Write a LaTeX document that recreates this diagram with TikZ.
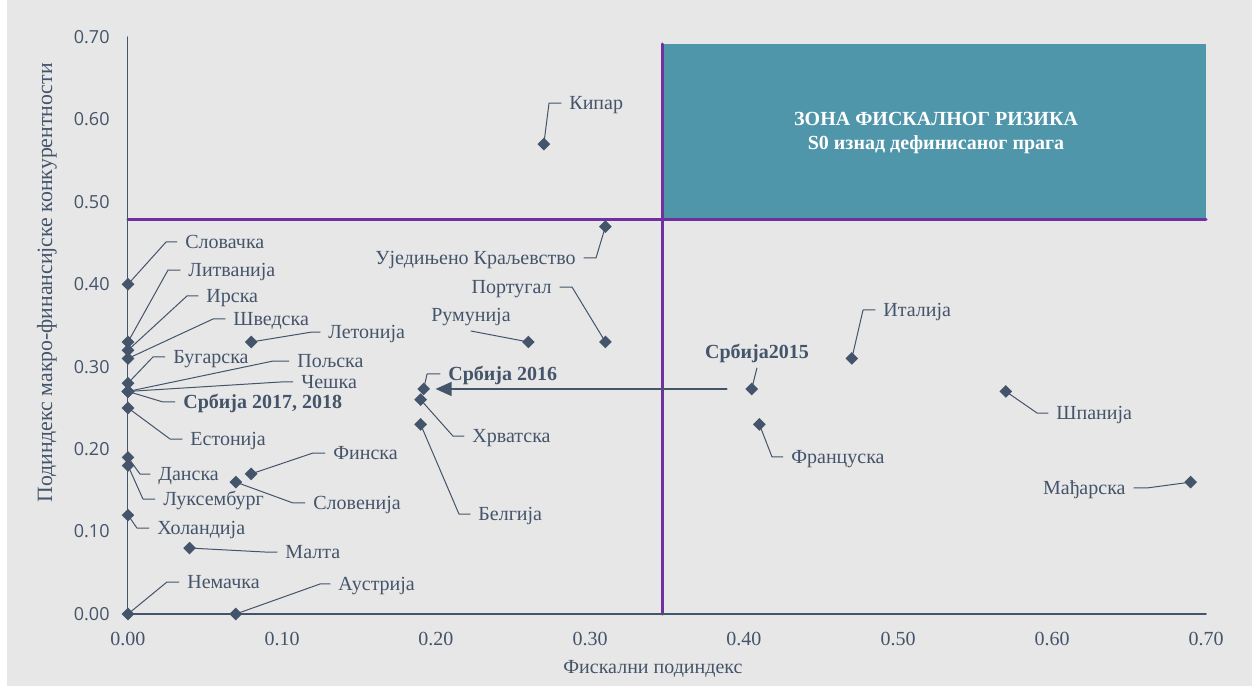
\documentclass[tikz,border=0pt]{standalone}
\usepackage{fontspec}
\setmainfont{Liberation Serif}
\newfontfamily\ticksans{Open Sans}
\usetikzlibrary{arrows.meta,shapes.geometric}
\definecolor{slate}{HTML}{44546A}
\definecolor{zonepurple}{HTML}{7030A0}
\definecolor{zoneteal}{HTML}{5096AB}
\definecolor{chartbg}{HTML}{E7E7E7}
\tikzset{
  country/.style={diamond,fill=slate,inner sep=0pt,minimum size=6.5pt},
  lbl/.style={font=\fontsize{10}{12}\selectfont,text=slate,inner sep=4pt,text height=0.7em,text depth=0.05em},
  leader/.style={draw=slate,line width=0.5pt},
  ytick/.style={font=\ticksans\fontsize{9}{11}\selectfont,text=slate,inner sep=0pt,anchor=east},
  xtick/.style={font=\fontsize{10}{12}\selectfont,text=slate,inner sep=0pt},
  threshold/.style={draw=zonepurple,line width=1.5pt}
}
\begin{document}
\begin{tikzpicture}[line cap=round,line join=round,x=770pt,y=412.15pt]
                \useasboundingbox (-0.08312,-0.08856) rectangle (0.72987,0.74488);
                \fill[white] (-0.08312,-0.08856) rectangle (0.72987,0.74488);
                \fill[chartbg] (-0.07857,-0.08735) rectangle (0.72987,0.74488);
                % risk zone
                \fill[zoneteal] (0.347,0.479) rectangle (0.7,0.6915);
                \node[font=\bfseries\fontsize{10}{12}\selectfont,text=white,align=center] (zone) at (0.5247,0.5835) {ЗОНА ФИСКАЛНОГ РИЗИКА\\S0 изнад дефинисаног прага};
                \draw[threshold] (0,0.479) -- (0.7,0.479);
                \draw[threshold] (0.347,0) -- (0.347,0.6915);
                % axes
                \draw[slate,line width=0.5pt] (0,0.7) -- (0,0);
                \draw[slate,line width=0.8pt] (0,0) -- (0.7,0);
                \foreach \v [count=\i] in {0.00,0.10,0.20,0.30,0.40,0.50,0.60,0.70} {
                    \node[ytick] (yt\i) at (-0.0117,\v) {\v};
                    \node[xtick] (xt\i) at (\v,-0.0303) {\v};
                }
                \node[font=\fontsize{10}{12}\selectfont,text=slate] (xtitle) at (0.3409,-0.0667) {Фискални подиндекс};
                \node[font=\fontsize{10.9}{13}\selectfont,text=slate,rotate=90] (ytitle) at (-0.0526,0.4016) {Подиндекс макро-финансијске конкурентности};
                % countries on the y axis
                \node[country] (svk) at (0,0.40) {};
                \node[country] (ltu) at (0,0.33) {};
                \node[country] (irl) at (0,0.32) {};
                \node[country] (swe) at (0,0.31) {};
                \node[country] (bgr) at (0,0.28) {};
                \node[country] (pol) at (0,0.27) {};
                \node[country] (cze) at (0,0.27) {};
                \node[country] (srb17) at (0,0.27) {};
                \node[country] (est) at (0,0.25) {};
                \node[country] (dnk) at (0,0.19) {};
                \node[country] (lux) at (0,0.18) {};
                \node[country] (nld) at (0,0.12) {};
                \node[country] (deu) at (0,0) {};
                % other countries
                \node[country] (lva) at (0.08,0.33) {};
                \node[country] (fin) at (0.08,0.17) {};
                \node[country] (svn) at (0.07,0.16) {};
                \node[country] (mlt) at (0.04,0.08) {};
                \node[country] (aut) at (0.07,0) {};
                \node[country] (cyp) at (0.27,0.57) {};
                \node[country] (gbr) at (0.31,0.47) {};
                \node[country] (prt) at (0.31,0.33) {};
                \node[country] (rou) at (0.26,0.33) {};
                \node[country] (srb16) at (0.192,0.273) {};
                \node[country] (hrv) at (0.19,0.26) {};
                \node[country] (bel) at (0.19,0.23) {};
                \node[country] (srb15) at (0.405,0.273) {};
                \node[country] (ita) at (0.47,0.31) {};
                \node[country] (fra) at (0.41,0.23) {};
                \node[country] (esp) at (0.57,0.27) {};
                \node[country] (hun) at (0.69,0.16) {};
                % labels and leaders
                \coordinate (svkE) at (0.0247,0.4513);
                \node[lbl,anchor=west] (svkL) at (0.0318,0.4513) {Словачка};
                \draw[leader] (svk.center) -- (svkE) -- (svkL.west);
                \coordinate (ltuE) at (0.0260,0.4173);
                \node[lbl,anchor=west] (ltuL) at (0.0338,0.4173) {Литванија};
                \draw[leader] (ltu.center) -- (ltuE) -- (ltuL.west);
                \coordinate (irlE) at (0.0383,0.3858);
                \node[lbl,anchor=west] (irlL) at (0.0455,0.3858) {Ирска};
                \draw[leader] (irl.center) -- (irlE) -- (irlL.west);
                \coordinate (sweE) at (0.0552,0.3579);
                \node[lbl,anchor=west] (sweL) at (0.0630,0.3579) {Шведска};
                \draw[leader] (swe.center) -- (sweE) -- (sweL.west);
                \coordinate (bgrE) at (0.0162,0.3118);
                \node[lbl,anchor=west] (bgrL) at (0.0240,0.3118) {Бугарска};
                \draw[leader] (bgr.center) -- (bgrE) -- (bgrL.west);
                \coordinate (polE) at (0.0942,0.3069);
                \node[lbl,anchor=west] (polL) at (0.1045,0.3069) {Пољска};
                \draw[leader] (pol.center) -- (polE) -- (polL.west);
                \coordinate (czeE) at (0.0994,0.2815);
                \node[lbl,anchor=west] (czeL) at (0.1071,0.2815) {Чешка};
                \draw[leader] (cze.center) -- (czeE) -- (czeL.west);
                \coordinate (srb17E) at (0.0227,0.2572);
                \node[lbl,anchor=west,font=\bfseries\fontsize{10}{12}\selectfont] (srb17L) at (0.0305,0.2572) {Србија 2017, 2018};
                \draw[leader] (srb17.center) -- (srb17E) -- (srb17L.west);
                \coordinate (estE) at (0.0273,0.2123);
                \node[lbl,anchor=west] (estL) at (0.0351,0.2123) {Естонија};
                \draw[leader] (est.center) -- (estE) -- (estL.west);
                \coordinate (dnkE) at (0.0078,0.1698);
                \node[lbl,anchor=west] (dnkL) at (0.0143,0.1698) {Данска};
                \draw[leader] (dnk.center) -- (dnkE) -- (dnkL.west);
                \coordinate (luxE) at (0.0097,0.1395);
                \node[lbl,anchor=west] (luxL) at (0.0175,0.1395) {Луксембург};
                \draw[leader] (lux.center) -- (luxE) -- (luxL.west);
                \coordinate (nldE) at (0.0058,0.1043);
                \node[lbl,anchor=west] (nldL) at (0.0136,0.1043) {Холандија};
                \draw[leader] (nld.center) -- (nldE) -- (nldL.west);
                \coordinate (deuE) at (0.0253,0.0388);
                \node[lbl,anchor=west] (deuL) at (0.0331,0.0388) {Немачка};
                \draw[leader] (deu.center) -- (deuE) -- (deuL.west);
                \coordinate (lvaE) at (0.1195,0.3421);
                \node[lbl,anchor=west] (lvaL) at (0.1247,0.3421) {Летонија};
                \draw[leader] (lva.center) -- (lvaE) -- (lvaL.west);
                \coordinate (finE) at (0.1201,0.1953);
                \node[lbl,anchor=west] (finL) at (0.1279,0.1953) {Финска};
                \draw[leader] (fin.center) -- (finE) -- (finL.west);
                \coordinate (svnE) at (0.1071,0.1347);
                \node[lbl,anchor=west] (svnL) at (0.1149,0.1347) {Словенија};
                \draw[leader] (svn.center) -- (svnE) -- (svnL.west);
                \coordinate (mltE) at (0.0890,0.0752);
                \node[lbl,anchor=west] (mltL) at (0.0968,0.0752) {Малта};
                \draw[leader] (mlt.center) -- (mltE) -- (mltL.west);
                \coordinate (autE) at (0.1247,0.0364);
                \node[lbl,anchor=west] (autL) at (0.1312,0.0364) {Аустрија};
                \draw[leader] (aut.center) -- (autE) -- (autL.west);
                \coordinate (cypE) at (0.2734,0.6199);
                \node[lbl,anchor=west] (cypL) at (0.2812,0.6199) {Кипар};
                \draw[leader] (cyp.center) -- (cypE) -- (cypL.west);
                \coordinate (gbrE) at (0.3039,0.4319);
                \node[lbl,anchor=east] (gbrL) at (0.2961,0.4319) {Уједињено Краљевство};
                \draw[leader] (gbr.center) -- (gbrE) -- (gbrL.east);
                \coordinate (prtE) at (0.2883,0.3967);
                \node[lbl,anchor=east] (prtL) at (0.2805,0.3967) {Португал};
                \draw[leader] (prt.center) -- (prtE) -- (prtL.east);
                \node[lbl,anchor=south] (rouL) at (0.2227,0.3433) {Румунија};
                \draw[leader] (rou.center) -- (rouL.south);
                \coordinate (srb16E) at (0.1942,0.2912);
                \node[lbl,anchor=west,font=\bfseries\fontsize{10}{12}\selectfont] (srb16L) at (0.2026,0.2912) {Србија 2016};
                \draw[leader] (srb16.center) -- (srb16E) -- (srb16L.west);
                \coordinate (hrvE) at (0.2110,0.2159);
                \node[lbl,anchor=west] (hrvL) at (0.2182,0.2159) {Хрватска};
                \draw[leader] (hrv.center) -- (hrvE) -- (hrvL.west);
                \coordinate (belE) at (0.2149,0.1213);
                \node[lbl,anchor=west] (belL) at (0.2221,0.1213) {Белгија};
                \draw[leader] (bel.center) -- (belE) -- (belL.west);
                \node[lbl,anchor=south,font=\bfseries\fontsize{10}{12}\selectfont] (srb15L) at (0.4084,0.2984) {Србија2015};
                \draw[leader] (srb15.center) -- (srb15L.south);
                \coordinate (itaE) at (0.4773,0.3688);
                \node[lbl,anchor=west] (itaL) at (0.4851,0.3688) {Италија};
                \draw[leader] (ita.center) -- (itaE) -- (itaL.west);
                \coordinate (fraE) at (0.4182,0.1905);
                \node[lbl,anchor=west] (fraL) at (0.4253,0.1905) {Француска};
                \draw[leader] (fra.center) -- (fraE) -- (fraL.west);
                \coordinate (espE) at (0.5903,0.2438);
                \node[lbl,anchor=west] (espL) at (0.5974,0.2438) {Шпанија};
                \draw[leader] (esp.center) -- (espE) -- (espL.west);
                \coordinate (hunE) at (0.6617,0.1529);
                \node[lbl,anchor=east] (hunL) at (0.6532,0.1529) {Мађарска};
                \draw[leader] (hun.center) -- (hunE) -- (hunL.east);
                % shift of Serbia
                \draw[slate,line width=0.75pt,-{Triangle[length=8pt,width=7pt]},shorten <=9pt,shorten >=2.5pt] (srb15) -- (srb16);
            \end{tikzpicture}
\end{document}
